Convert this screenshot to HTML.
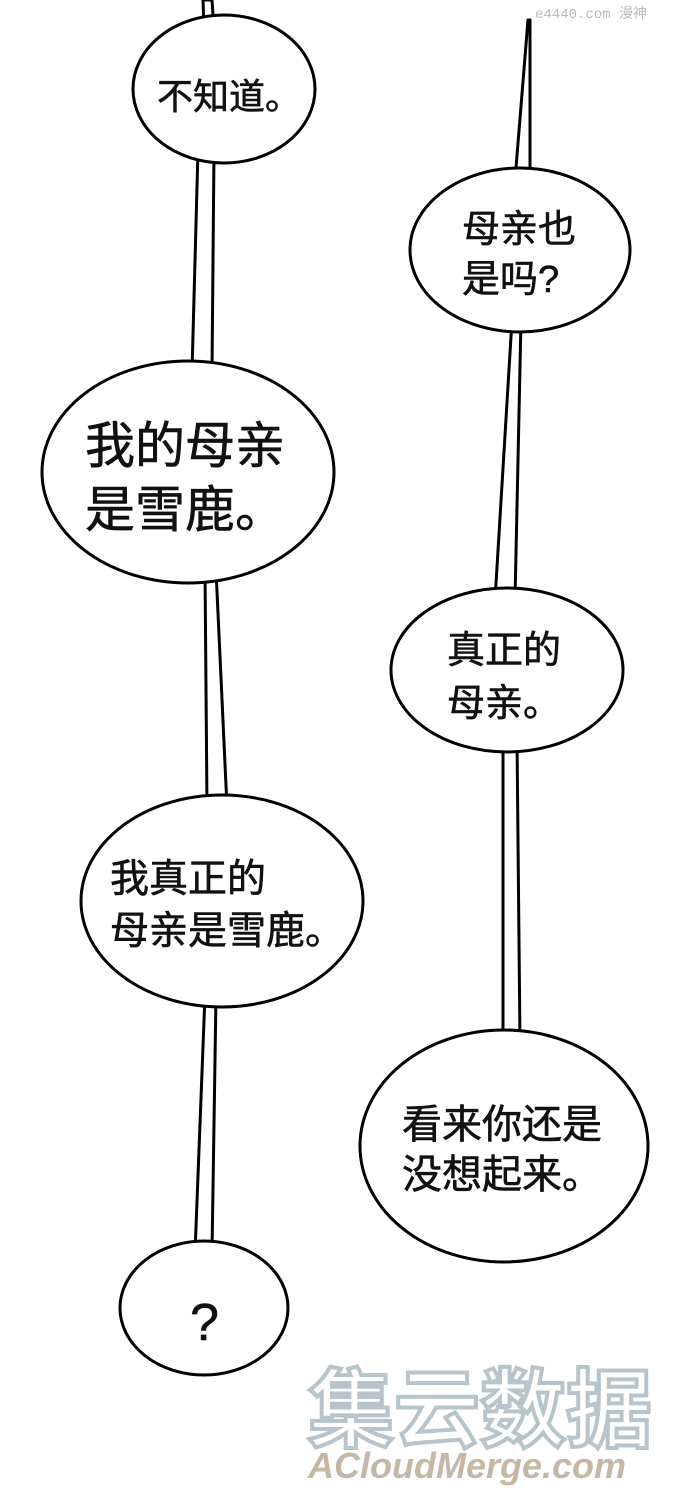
<!DOCTYPE html>
<html><head><meta charset="utf-8"><style>
html,body{margin:0;padding:0;background:#fff;}
svg{display:block;}
text{font-family:"Liberation Sans","Noto Sans CJK SC",sans-serif;fill:#111;}
.t{stroke:#111;stroke-width:0.6;}
</style></head><body>
<svg width="690" height="1497" viewBox="0 0 690 1497" xmlns="http://www.w3.org/2000/svg">
<g fill="#fff" stroke="#000" stroke-width="3" stroke-linejoin="round">
<polygon points="203,0 212,0 214,30 204,30"/>
<polygon points="198,150 214,150 212,372 192,372"/>
<polygon points="205,570 216,570 227,807 207,807"/>
<polygon points="205,995 216,995 212,1253 195,1253"/>
<polygon points="528,20 530,20 530,180 515,180"/>
<polygon points="512,320 521,320 515,600 495,600"/>
<polygon points="503,740 517,740 520,1042 503,1042"/>
<ellipse cx="224" cy="89" rx="91" ry="74"/>
<ellipse cx="188" cy="472" rx="146" ry="111"/>
<ellipse cx="222" cy="901" rx="141" ry="106"/>
<ellipse cx="204" cy="1308" rx="84" ry="67"/>
<ellipse cx="520" cy="250" rx="110" ry="82"/>
<ellipse cx="507" cy="670" rx="116" ry="82"/>
<ellipse cx="504" cy="1146" rx="144" ry="116"/>
</g>
<g class="t">
<text x="157" y="109" font-size="36">不知道。</text>
<text x="85" y="463" font-size="50">我的母亲</text>
<text x="85" y="527" font-size="50">是雪鹿。</text>
<text x="110" y="892" font-size="39">我真正的</text>
<text x="110" y="944" font-size="39">母亲是雪鹿。</text>
<text x="190" y="1340" font-size="52">?</text>
<text x="462" y="242" font-size="38">母亲也</text>
<text x="462" y="292" font-size="38">是吗?</text>
<text x="447" y="663" font-size="38">真正的</text>
<text x="447" y="716" font-size="38">母亲。</text>
<text x="402" y="1138" font-size="40">看来你还是</text>
<text x="402" y="1188" font-size="40">没想起来。</text>
</g>
<g stroke="none">
<text x="535" y="18" font-size="14" style="fill:#bbb;font-family:'Liberation Mono','Noto Sans CJK SC',monospace">e4440.com 漫神</text>
<text x="308" y="1440" font-size="86" font-weight="bold" style="fill:#fff;stroke:#b7c4cc;stroke-width:4">集云数据</text>
<text x="308" y="1478" font-size="36" font-weight="bold" font-style="italic" style="fill:#c5b7a6">ACloudMerge.com</text>
</g>
</svg>
</body></html>
